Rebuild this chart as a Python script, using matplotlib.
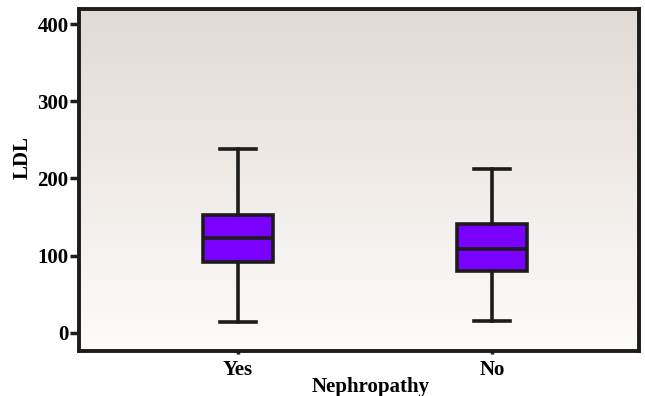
import matplotlib
matplotlib.use("Agg")
import matplotlib.pyplot as plt
import numpy as np

categories = ["Yes", "No"]
whisker_low = [14, 15.5]
q1 = [92, 80]
median = [123, 109]
q3 = [153, 141]
whisker_high = [238, 212]
yticks = [0, 100, 200, 300, 400]

plt.rcParams['font.family'] = ['Liberation Serif', 'DejaVu Serif']
plt.rcParams['font.weight'] = 'bold'

fig = plt.figure(figsize=(6.45, 3.96), dpi=100)
ax = fig.add_axes([79/645, 1-351/396, (639-79)/645, (351-9)/396])

# gradient background
grad = np.linspace(0, 1, 256).reshape(-1, 1)
top = np.array([226, 218, 212]) / 255
bot = np.array([253, 252, 251]) / 255
img = (bot[None, None, :] * (1 - grad[..., None]) + top[None, None, :] * grad[..., None])
ax.imshow(img, extent=[0, 1, 0, 1], transform=ax.transAxes, aspect='auto',
          origin='lower', zorder=0)

stats = []
for i, c in enumerate(categories):
    stats.append(dict(label=c, whislo=whisker_low[i], q1=q1[i], med=median[i],
                      q3=q3[i], whishi=whisker_high[i], fliers=[]))

lc = '#1c1c1c'
bp = ax.bxp(stats, positions=[1, 2], widths=0.275, patch_artist=True,
            showfliers=False,
            boxprops=dict(facecolor='#7A00FF', edgecolor=lc, linewidth=2.6),
            medianprops=dict(color=lc, linewidth=2.6),
            whiskerprops=dict(color=lc, linewidth=2.6),
            capprops=dict(color=lc, linewidth=2.6),
            capwidths=0.14, zorder=3)

fs = 15
ax.set_xlim(0.374, 2.579)
ax.set_ylim(-23.5, 419.5)
ax.set_yticks(yticks)
ax.set_yticklabels([str(t) for t in yticks], fontsize=fs, fontweight='bold')
ax.set_xticks([1, 2])
ax.set_xticklabels(categories, fontsize=fs, fontweight='bold')
ax.tick_params(axis='y', direction='out', length=6.5, width=2.5, color=lc, pad=1)
ax.tick_params(axis='x', direction='out', length=2.5, width=2.5, color=lc, pad=4)
for s in ax.spines.values():
    s.set_linewidth(2.8)
    s.set_color(lc)

ax.set_ylabel("LDL", fontsize=fs, fontweight='bold')
ax.yaxis.set_label_coords(-0.082, 0.567)
ax.set_xlabel("Nephropathy", fontsize=fs, fontweight='bold')
ax.xaxis.set_label_coords((371-79)/560, -0.076)

fig.savefig("out.png", dpi=100)
